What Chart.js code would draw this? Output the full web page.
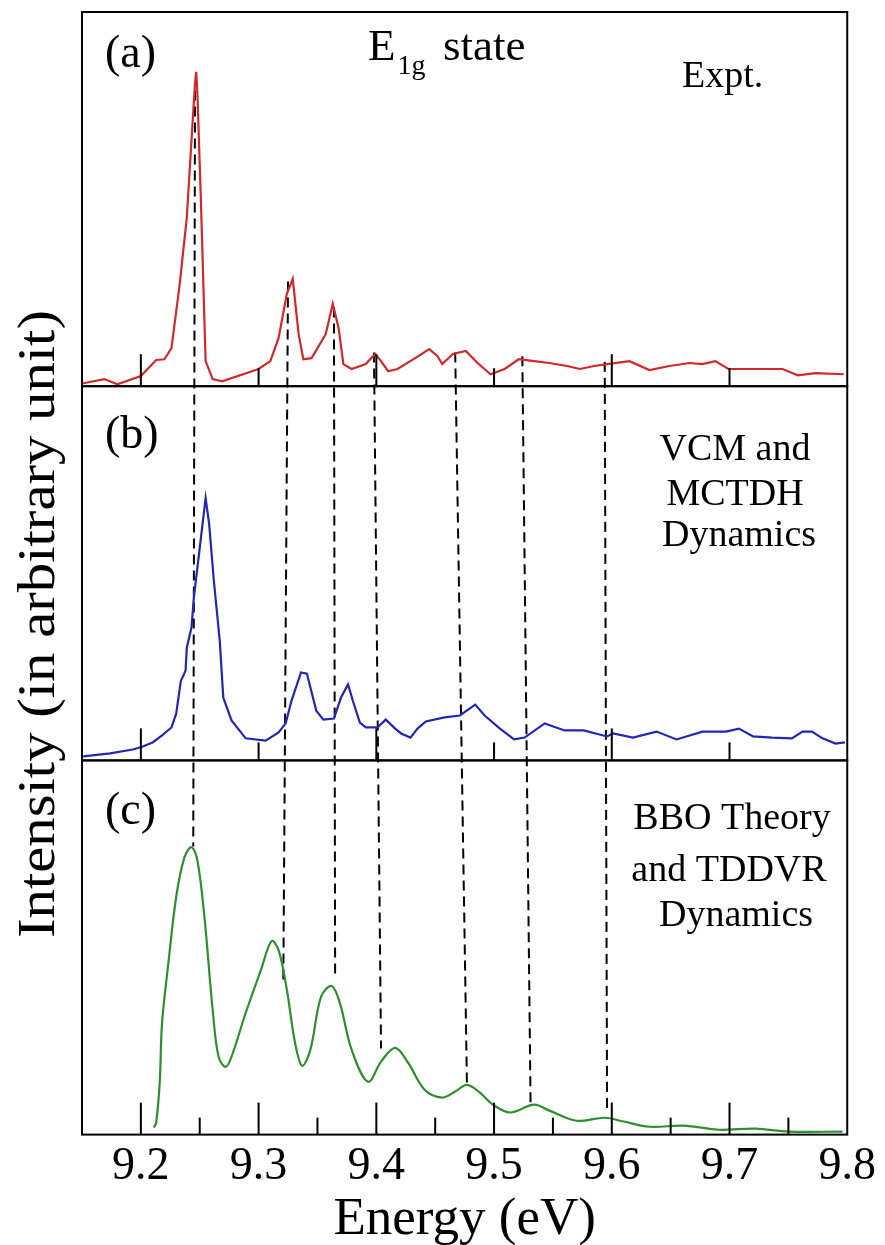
<!DOCTYPE html>
<html>
<head>
<meta charset="utf-8">
<title>E1g state spectra</title>
<script src="https://cdn.jsdelivr.net/npm/chart.js"></script>
<style>
  html, body { margin: 0; padding: 0; background: #fff; }
  canvas { display: block; }
</style>
</head>
<body>
<canvas id="spectra" width="885" height="1245"></canvas>
<script>
// (a) Expt.
const exptEnergy = [9.151, 9.169, 9.180, 9.200, 9.213, 9.220, 9.226, 9.233, 9.239, 9.243, 9.246, 9.247, 9.248, 9.251, 9.255, 9.261,
    9.269, 9.300, 9.310, 9.317, 9.324, 9.329, 9.334, 9.338, 9.345, 9.357, 9.363, 9.368, 9.372, 9.379, 9.391, 9.399, 9.404,
    9.410, 9.418, 9.433, 9.445, 9.452, 9.456, 9.465, 9.476, 9.486, 9.497, 9.509, 9.521, 9.534, 9.547, 9.562, 9.573, 9.585,
    9.596, 9.615, 9.632, 9.649, 9.666, 9.677, 9.688, 9.699, 9.720, 9.745, 9.758, 9.773, 9.797];
const exptIntensity = [0.8, 1.9, 0.5, 2.7, 7.0, 7.2, 10.2, 27.3, 45.0, 65.7, 81.0, 84.0, 78.3, 49.6, 6.7, 1.9,
    1.3, 4.6, 6.7, 12.9, 24.7, 28.7, 13.9, 7.2, 7.5, 13.9, 22.0, 15.5, 5.9, 4.6, 5.9, 8.6, 6.7,
    4.0, 4.6, 7.5, 9.9, 8.0, 5.9, 8.6, 9.4, 6.2, 3.2, 4.6, 7.2, 6.7, 6.2, 5.4, 4.6, 5.4,
    5.9, 6.7, 4.3, 5.4, 6.2, 5.9, 6.7, 4.6, 4.6, 4.6, 2.9, 3.5, 3.2];

// (b) VCM and MCTDH dynamics
const vcmEnergy = [9.151, 9.174, 9.193, 9.200, 9.210, 9.218, 9.226, 9.230, 9.234, 9.238, 9.239, 9.243, 9.245, 9.250, 9.255, 9.258,
    9.262, 9.267, 9.270, 9.277, 9.289, 9.306, 9.317, 9.323, 9.328, 9.336, 9.341, 9.349, 9.355, 9.364, 9.370, 9.376, 9.380,
    9.386, 9.391, 9.401, 9.408, 9.416, 9.421, 9.429, 9.435, 9.442, 9.458, 9.471, 9.484, 9.492, 9.505, 9.517, 9.526, 9.543,
    9.560, 9.576, 9.596, 9.601, 9.618, 9.638, 9.655, 9.677, 9.697, 9.708, 9.720, 9.736, 9.753, 9.762, 9.770, 9.779, 9.790, 9.798];
const vcmIntensity = [1.1, 1.9, 2.9, 3.5, 4.8, 6.7, 8.8, 12.5, 21.3, 24.0, 30.1, 35.5, 43.5, 56.8, 70.1, 63.2,
    48.0, 32.0, 16.8, 10.7, 5.9, 5.3, 7.5, 9.9, 16.0, 23.5, 23.2, 13.3, 10.9, 11.2, 16.8, 20.3, 16.0,
    10.1, 8.8, 8.8, 10.9, 8.5, 7.2, 6.1, 8.5, 10.4, 11.5, 12.0, 14.9, 12.0, 8.5, 5.6, 6.1, 9.9,
    8.0, 8.0, 6.4, 7.2, 6.1, 7.7, 5.6, 7.7, 7.7, 8.5, 6.4, 6.1, 5.9, 7.7, 7.7, 5.9, 4.5, 4.8];

// (c) BBO theory and TDDVR dynamics
const bboEnergy = [9.211, 9.213, 9.216, 9.218, 9.223, 9.230, 9.237, 9.243, 9.248, 9.254, 9.261, 9.266, 9.272, 9.277, 9.289, 9.302,
    9.311, 9.317, 9.324, 9.331, 9.337, 9.344, 9.353, 9.362, 9.369, 9.379, 9.393, 9.404, 9.416, 9.427, 9.441, 9.456,
    9.467, 9.477, 9.488, 9.499, 9.514, 9.534, 9.547, 9.570, 9.594, 9.610, 9.632, 9.661, 9.691, 9.722, 9.750, 9.796];
const bboIntensity = [1.9, 3.2, 13.9, 29.9, 44.8, 63.5, 74.1, 76.8, 73.3, 58.1, 33.3, 20.8, 18.1, 20.8, 32.5, 44.0,
    51.7, 49.3, 38.7, 24.5, 18.4, 22.7, 36.8, 39.7, 35.2, 22.7, 14.1, 19.5, 23.2, 19.2, 12.0, 9.9,
    11.5, 13.3, 11.2, 8.0, 5.9, 8.0, 6.4, 3.7, 4.5, 3.5, 2.1, 2.4, 1.3, 1.6, 0.8, 0.8];

const tickValues = [9.2, 9.3, 9.4, 9.5, 9.6, 9.7, 9.8];
const minorTickValues = [9.25, 9.35, 9.45, 9.55, 9.65, 9.75];

// dashed guides running through all three panels (level 0-300: c=0-100, b=100-200, a=200-300)
const guideTopEnergy = [9.246, 9.325, 9.364, 9.398, 9.467, 9.524, 9.594];
const guideBottomEnergy = [9.2445, 9.321, 9.365, 9.404, 9.477, 9.531, 9.596];
const guideTopLevel = [279, 228, 221, 209, 209, 208, 206.5];
const guideBottomLevel = [77, 41, 42, 23, 13, 8.5, 6.7];

const serif = 'Liberation Serif, Times New Roman, serif';

function points(xs, ys) {
    return xs.map((x, i) => ({ x: x, y: ys[i] }));
}

const guideSets = guideTopEnergy.map((e, i) => ({
    data: [{ x: e, y: guideTopLevel[i] }, { x: guideBottomEnergy[i], y: guideBottomLevel[i] }],
    yAxisID: 'yAll',
    borderColor: '#000',
    borderWidth: 2,
    borderDash: [10, 6],
    pointRadius: 0
}));

// frames, inward ticks and the labels inside the panels
const panelDecor = {
    id: 'panelDecor',
    afterDraw(chart) {
        const ctx = chart.ctx;
        const area = chart.chartArea;
        const xs = chart.scales.x;
        const pa = chart.scales.yA, pb = chart.scales.yB, pc = chart.scales.yC;
        ctx.save();

        ctx.strokeStyle = '#000';
        ctx.lineWidth = 2;
        [pa, pb, pc].forEach(p => {
            ctx.strokeRect(area.left, p.top, area.right - area.left, p.bottom - p.top);
        });

        // ticks pointing up from each panel bottom
        [pa, pb].forEach(p => {
            tickValues.slice(0, 6).forEach((v, i) => {
                const px = xs.getPixelForValue(v);
                ctx.beginPath();
                ctx.moveTo(px, p.bottom);
                ctx.lineTo(px, p.bottom - (i % 2 === 0 ? 32 : 18));
                ctx.stroke();
            });
        });
        tickValues.slice(0, 6).forEach(v => {
            const px = xs.getPixelForValue(v);
            ctx.beginPath();
            ctx.moveTo(px, pc.bottom);
            ctx.lineTo(px, pc.bottom - 32);
            ctx.stroke();
        });
        minorTickValues.forEach(v => {
            const px = xs.getPixelForValue(v);
            ctx.beginPath();
            ctx.moveTo(px, pc.bottom);
            ctx.lineTo(px, pc.bottom - 17);
            ctx.stroke();
        });

        ctx.fillStyle = '#000';
        ctx.textBaseline = 'alphabetic';

        // panel letters
        ctx.textAlign = 'left';
        ctx.font = '46px ' + serif;
        ctx.fillText('(a)', area.left + 23, pa.top + 55);
        ctx.fillText('(b)', area.left + 23, pb.top + 62);
        ctx.fillText('(c)', area.left + 23, pc.top + 64);

        // E1g state
        ctx.font = '45px ' + serif;
        ctx.fillText('E', 368, pa.top + 48);
        const eWidth = ctx.measureText('E').width;
        ctx.fillText('state', 443, pa.top + 48);
        ctx.font = '28px ' + serif;
        ctx.fillText('1g', 368 + eWidth + 2, pa.top + 62);

        ctx.font = '38px ' + serif;
        ctx.fillText('Expt.', 682, pa.top + 75);

        ctx.textAlign = 'center';
        ctx.fillText('VCM and', 735, pb.top + 74);
        ctx.fillText('MCTDH', 735, pb.top + 119);
        ctx.fillText('Dynamics', 739, pb.top + 160);

        ctx.fillText('BBO Theory', 732, pc.top + 69);
        ctx.fillText('and TDDVR', 729, pc.top + 121);
        ctx.fillText('Dynamics', 736, pc.top + 166);

        // y title, stretched to the reference length
        ctx.font = '53px ' + serif;
        const label = 'Intensity (in arbitrary unit)';
        const w = ctx.measureText(label).width;
        ctx.translate(54, 624);
        ctx.rotate(-Math.PI / 2);
        ctx.scale(628 / w, 1);
        ctx.fillText(label, 0, 0);

        ctx.restore();
    }
};

new Chart(document.getElementById('spectra'), {
    type: 'line',
    data: {
        datasets: [
            {
                data: points(exptEnergy, exptIntensity),
                yAxisID: 'yA',
                borderColor: '#d0282b',
                borderWidth: 2.2,
                pointRadius: 0,
                tension: 0
            },
            {
                data: points(vcmEnergy, vcmIntensity),
                yAxisID: 'yB',
                borderColor: '#2525b5',
                borderWidth: 2.2,
                pointRadius: 0,
                tension: 0
            },
            {
                data: points(bboEnergy, bboIntensity),
                yAxisID: 'yC',
                borderColor: '#2f8f2f',
                borderWidth: 2.2,
                pointRadius: 0,
                tension: 0.35
            },
            ...guideSets
        ]
    },
    options: {
        responsive: false,
        animation: false,
        events: [],
        layout: { padding: { left: 82, right: 34, top: 12, bottom: 0 } },
        plugins: {
            legend: { display: false },
            tooltip: { enabled: false }
        },
        scales: {
            x: {
                type: 'linear',
                min: 9.15,
                max: 9.8,
                afterBuildTicks: s => { s.ticks = tickValues.map(v => ({ value: v })); },
                grid: { display: false, drawTicks: false },
                border: { display: false },
                ticks: {
                    color: '#000',
                    padding: 9,
                    maxRotation: 0,
                    autoSkip: false,
                    font: { family: serif, size: 46, lineHeight: 1 },
                    callback: v => Number(v).toFixed(1)
                },
                title: {
                    display: true,
                    text: 'Energy (eV)',
                    color: '#000',
                    font: { family: serif, size: 53, lineHeight: 0.8 },
                    padding: { top: 0, bottom: 4 }
                }
            },
            yC: { type: 'linear', position: 'left', stack: 'panels', stackWeight: 1, min: 0, max: 100, display: false },
            yB: { type: 'linear', position: 'left', stack: 'panels', stackWeight: 1, min: 0, max: 100, display: false },
            yA: { type: 'linear', position: 'left', stack: 'panels', stackWeight: 1, min: 0, max: 100, display: false },
            yAll: { type: 'linear', position: 'left', min: 0, max: 300, display: false }
        }
    },
    plugins: [panelDecor]
});
</script>
</body>
</html>
